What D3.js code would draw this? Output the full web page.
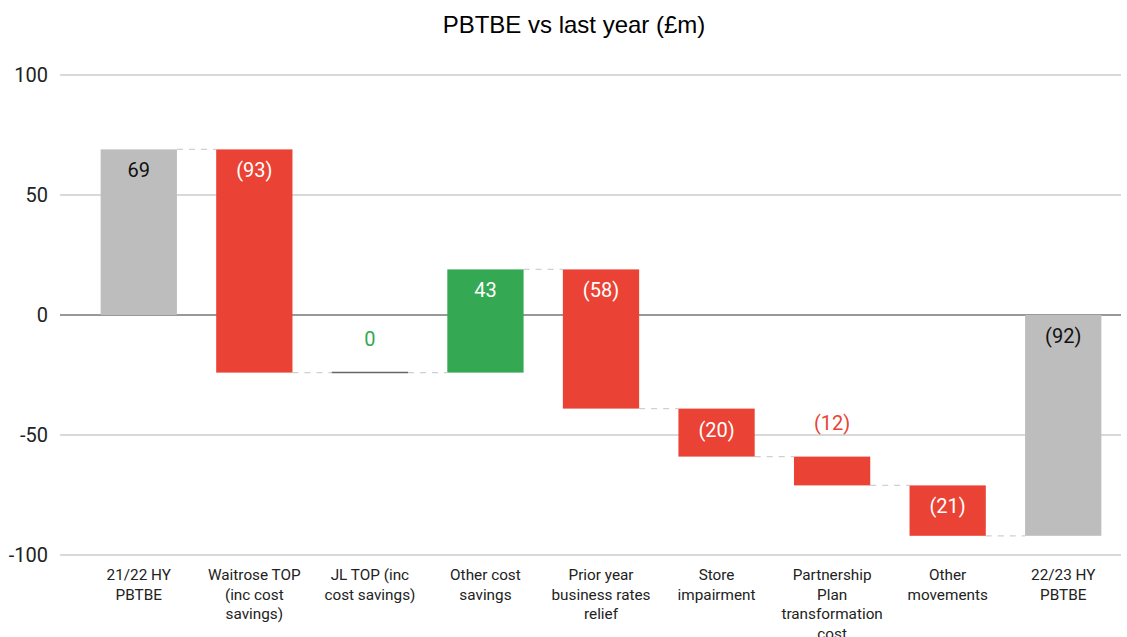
<!DOCTYPE html>
<html>
<head>
<meta charset="utf-8">
<script src="https://cdn.jsdelivr.net/npm/d3@7"></script>
<style>
  body { margin: 0; background: #fff; font-family: Roboto, "Noto Sans", sans-serif; }
  .tick text { fill: #222; }
</style>
</head>
<body>
<div id="chart"></div>
<script>
// category labels (line breaks as in the chart)
var categories = [
  "21/22 HY\nPBTBE",
  "Waitrose TOP\n(inc cost\nsavings)",
  "JL TOP (inc\ncost savings)",
  "Other cost\nsavings",
  "Prior year\nbusiness rates\nrelief",
  "Store\nimpairment",
  "Partnership\nPlan\ntransformation\ncost",
  "Other\nmovements",
  "22/23 HY\nPBTBE"
];
var values = [69, -93, 0, 43, -58, -20, -12, -21, -92];
var kinds = ["total", "step", "step", "step", "step", "step", "step", "step", "total"];
var yTicks = [-100, -50, 0, 50, 100];

var svgWidth = 1127;
var svgHeight = 637;
var margin = { top: 75, right: 6, bottom: 82, left: 60 };
var width = svgWidth - margin.left - margin.right;
var height = svgHeight - margin.top - margin.bottom;

var colors = { total: "#bdbdbd", up: "#34a853", down: "#ea4335" };

var svg = d3.select("#chart")
  .append("svg")
  .attr("width", svgWidth)
  .attr("height", svgHeight);

svg.append("text")
  .attr("x", 574)
  .attr("y", 24)
  .attr("text-anchor", "middle")
  .attr("dominant-baseline", "central")
  .attr("font-family", "'Liberation Sans', Arial, sans-serif")
  .attr("font-size", "24px")
  .attr("fill", "#000")
  .text("PBTBE vs last year (£m)");

var chartGroup = svg.append("g")
  .attr("transform", `translate(${margin.left}, ${margin.top})`);

// build waterfall rows
var rows = [];
var running = 0;
values.forEach(function(v, i) {
  var start, end;
  if (kinds[i] == "total") {
    start = 0; end = v; running = v;
  } else {
    start = running; end = running + v; running = end;
  }
  rows.push({ name: categories[i], value: v, kind: kinds[i], start: start, end: end, idx: i });
});

var xScale = d3.scaleBand()
  .domain(d3.range(categories.length))
  .range([21, width])
  .paddingInner(0.34)
  .paddingOuter(0.17);

var yScale = d3.scaleLinear()
  .domain([-100, 100])
  .range([height, 0]);

// gridlines
chartGroup.selectAll("line.grid")
  .data(yTicks)
  .enter()
  .append("line")
  .attr("class", "grid")
  .attr("x1", 0)
  .attr("x2", width)
  .attr("y1", d => yScale(d))
  .attr("y2", d => yScale(d))
  .attr("stroke", d => d == 0 ? "#333" : "#ccc")
  .attr("stroke-width", d => d == 0 ? 1 : 1.3);

// y axis labels (plain hyphen like the original)
var yAxis = d3.axisLeft(yScale)
  .tickValues(yTicks)
  .tickFormat(d => String(d))
  .tickSize(0)
  .tickPadding(12);
chartGroup.append("g")
  .call(yAxis)
  .call(g => g.select(".domain").remove())
  .selectAll("text")
  .attr("font-size", "20px")
  .attr("font-family", "Roboto, sans-serif");

// connectors
var bw = xScale.bandwidth();
chartGroup.selectAll("line.conn")
  .data(rows.slice(0, -1))
  .enter()
  .append("line")
  .attr("class", "conn")
  .attr("x1", d => xScale(d.idx) + bw)
  .attr("x2", d => xScale(d.idx + 1))
  .attr("y1", d => yScale(d.end))
  .attr("y2", d => yScale(d.end))
  .attr("stroke", "#d0d0d0")
  .attr("stroke-width", 1.2)
  .attr("stroke-dasharray", "6,6");

function barColor(d) {
  if (d.kind == "total") return colors.total;
  return d.value >= 0 ? colors.up : colors.down;
}

// bars
chartGroup.selectAll("rect.bar")
  .data(rows)
  .enter()
  .append("rect")
  .attr("class", "bar")
  .attr("x", d => xScale(d.idx))
  .attr("width", bw)
  .attr("y", d => yScale(Math.max(d.start, d.end)))
  .attr("height", d => Math.abs(yScale(d.start) - yScale(d.end)))
  .attr("fill", barColor);

// zero-change marker
chartGroup.selectAll("line.zero")
  .data(rows.filter(d => d.value == 0))
  .enter()
  .append("line")
  .attr("x1", d => xScale(d.idx))
  .attr("x2", d => xScale(d.idx) + bw)
  .attr("y1", d => yScale(d.end))
  .attr("y2", d => yScale(d.end))
  .attr("stroke", "#666")
  .attr("stroke-width", 1.5);

function fmt(v) {
  return v < 0 ? "(" + Math.abs(v) + ")" : String(v);
}

// value labels
chartGroup.selectAll("text.val")
  .data(rows)
  .enter()
  .append("text")
  .attr("class", "val")
  .attr("x", d => xScale(d.idx) + bw / 2)
  .attr("y", function(d) {
    var top = yScale(Math.max(d.start, d.end));
    var h = Math.abs(yScale(d.start) - yScale(d.end));
    return h < 40 ? top - 34 : top + 21;
  })
  .attr("text-anchor", "middle")
  .attr("dominant-baseline", "central")
  .attr("font-size", "20px")
  .attr("fill", function(d) {
    var h = Math.abs(yScale(d.start) - yScale(d.end));
    if (h < 40) return barColor(d);
    return d.kind == "total" ? "#111" : "#fff";
  })
  .text(d => fmt(d.value));

// category labels
var cat = chartGroup.selectAll("text.cat")
  .data(rows)
  .enter()
  .append("text")
  .attr("class", "cat")
  .attr("text-anchor", "middle")
  .attr("font-size", "15.3px")
  .attr("fill", "#222")
  .attr("transform", d => `translate(${xScale(d.idx) + bw / 2}, ${height + 25})`);

cat.selectAll("tspan")
  .data(d => d.name.split("\n"))
  .enter()
  .append("tspan")
  .attr("x", 0)
  .attr("dy", (d, i) => i == 0 ? 0 : 19.7)
  .text(d => d);
</script>
</body>
</html>
